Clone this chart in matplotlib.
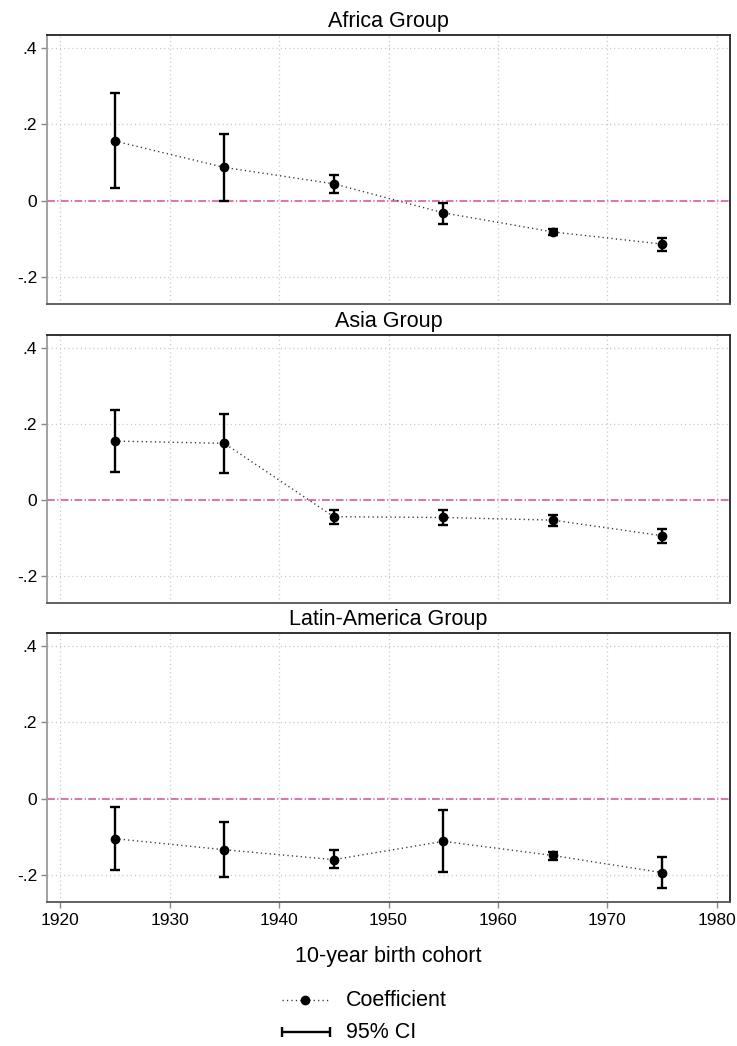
import matplotlib
matplotlib.use("Agg")
import matplotlib.pyplot as plt
import numpy as np

plt.rcParams['font.family'] = ['Liberation Sans', 'DejaVu Sans']
plt.rcParams['lines.scale_dashes'] = False

cohorts = [1925, 1935, 1945, 1955, 1965, 1975]
groups = ["Africa Group", "Asia Group", "Latin-America Group"]

africa_coef = [0.156, 0.087, 0.044, -0.032, -0.082, -0.114]
africa_lo = [0.032, 0.000, 0.020, -0.061, -0.089, -0.132]
africa_hi = [0.281, 0.175, 0.068, -0.006, -0.075, -0.097]

asia_coef = [0.155, 0.149, -0.044, -0.046, -0.053, -0.094]
asia_lo = [0.074, 0.072, -0.062, -0.066, -0.068, -0.112]
asia_hi = [0.237, 0.226, -0.026, -0.026, -0.039, -0.076]

latam_coef = [-0.105, -0.134, -0.160, -0.112, -0.149, -0.194]
latam_lo = [-0.187, -0.206, -0.183, -0.193, -0.161, -0.235]
latam_hi = [-0.022, -0.062, -0.136, -0.030, -0.139, -0.154]

series = [(africa_coef, africa_lo, africa_hi),
          (asia_coef, asia_lo, asia_hi),
          (latam_coef, latam_lo, latam_hi)]

yticks = [-0.2, 0, 0.2, 0.4]
ytick_labels = ["-.2", "0", ".2", ".4"]
xticks = [1920, 1930, 1940, 1950, 1960, 1970, 1980]

W, H = 737, 1046
fig = plt.figure(figsize=(W / 100, H / 100), dpi=100)

# pixel layout (top, bottom) of each panel
panels_px = [(35, 304), (335, 603), (633, 902)]
left_px, right_px = 47, 730

axes = []
for i, (top, bot) in enumerate(panels_px):
    ax = fig.add_axes([left_px / W, 1 - bot / H, (right_px - left_px) / W, (bot - top) / H])
    axes.append(ax)
    coef, lo, hi = series[i]
    coef = np.array(coef); lo = np.array(lo); hi = np.array(hi)
    ax.set_xlim(1918.8, 1981.2)
    ax.set_ylim(-0.271, 0.434)

    # grid
    for xv in xticks:
        ax.axvline(xv, color='#c4c4c4', lw=0.9, ls=(0, (0.8, 2.2)), zorder=0)
    for yv in [-0.2, 0.2, 0.4]:
        ax.axhline(yv, color='#c4c4c4', lw=0.9, ls=(0, (0.8, 2.2)), zorder=0)
    # zero line
    ax.axhline(0, color='#d27cae', lw=1.5, ls=(0, (5.6, 1.7, 0.9, 1.7)), zorder=1)

    # connecting line
    ax.plot(cohorts, coef, color='#333333', lw=1.0, ls=(0, (0.9, 2.3)), zorder=2)
    # CI
    ax.errorbar(cohorts, coef, yerr=[coef - lo, hi - coef], fmt='none',
                ecolor='black', elinewidth=1.7, capsize=3.8, capthick=1.7, zorder=3)
    ax.plot(cohorts, coef, 'o', color='black', ms=6.0, zorder=4)

    ax.set_title(groups[i], fontsize=15.5, pad=5.5)

    ax.set_yticks(yticks)
    ax.set_yticklabels(ytick_labels, fontsize=12.5)
    ax.tick_params(axis='y', direction='out', length=4, width=1, color='#888888', pad=3)
    ax.set_xticks(xticks)
    if i == 2:
        ax.set_xticklabels([str(x) for x in xticks], fontsize=12.5)
        ax.tick_params(axis='x', direction='out', length=4, width=1, color='#888888', pad=4)
        ax.set_xlabel("10-year birth cohort", fontsize=15.5, labelpad=13)
    else:
        ax.tick_params(axis='x', length=0, labelbottom=False)

    ax.spines['top'].set_color('#222222')
    ax.spines['right'].set_color('#222222')
    ax.spines['left'].set_color('#9a9a9a')
    ax.spines['bottom'].set_color('#555555')
    for s in ax.spines.values():
        s.set_linewidth(1.3)

# legend drawn in a figure-wide overlay axes (pixel coordinates)
lax = fig.add_axes([0, 0, 1, 1])
lax.set_xlim(0, W)
lax.set_ylim(H, 0)
lax.axis('off')
lax.plot([282, 328], [1000, 1000], color='#333333', lw=1.0, ls=(0, (0.9, 2.3)))
lax.plot([305], [1000], 'o', color='black', ms=6.0)
lax.errorbar([306], [1032], xerr=[[24], [24]], fmt='none', ecolor='black',
             elinewidth=1.7, capsize=3.8, capthick=1.7)
lax.text(346, 1000, "Coefficient", fontsize=15.5, va='center', ha='left')
lax.text(346, 1032, "95% CI", fontsize=15.5, va='center', ha='left')

fig.savefig("out.png", dpi=100)
